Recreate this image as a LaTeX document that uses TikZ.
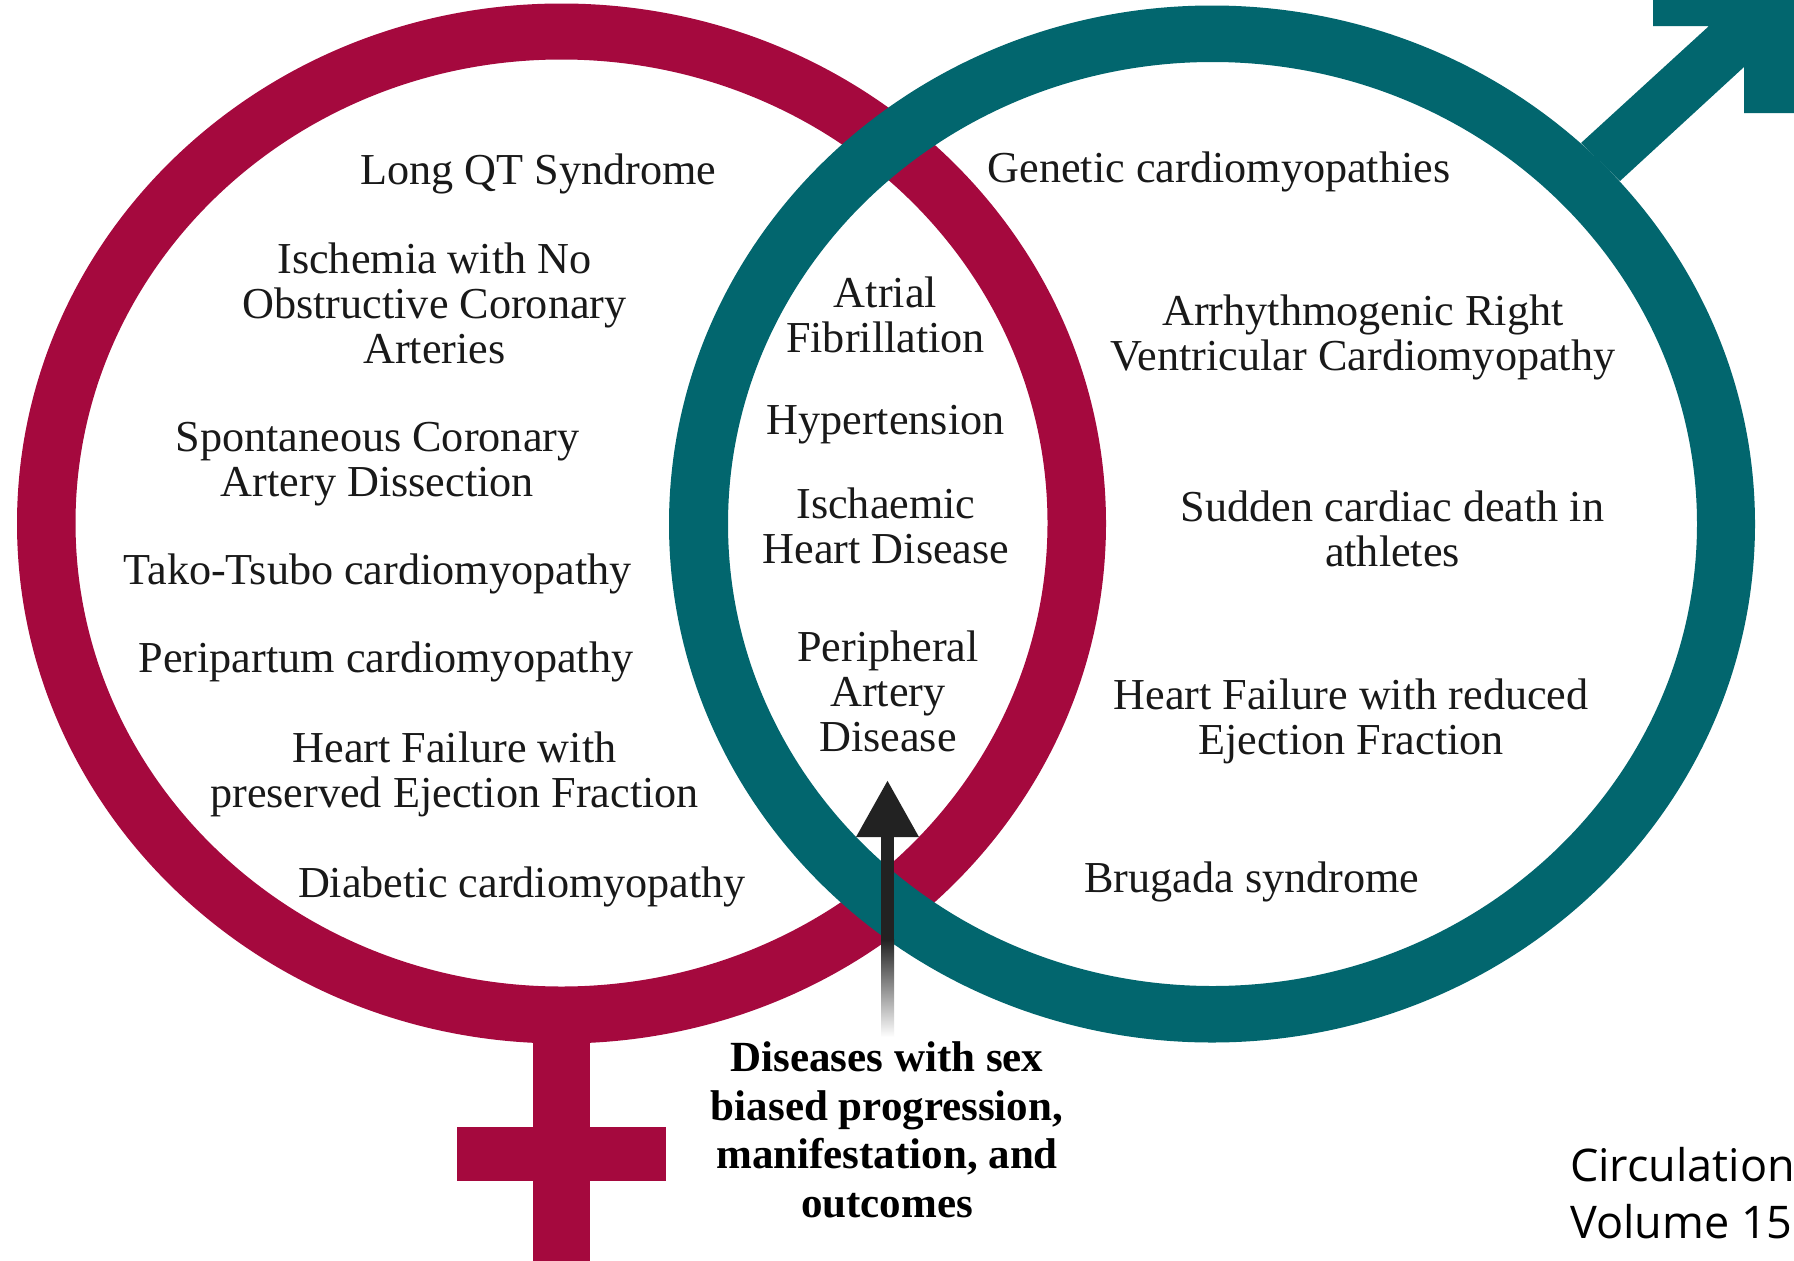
\documentclass[tikz,border=0pt]{standalone}
\usepackage{fontspec}
\setmainfont{Liberation Serif}
\newfontfamily\notefont{Open Sans}
\usetikzlibrary{arrows.meta}
\definecolor{ringred}{HTML}{A5093E}
\definecolor{ringteal}{HTML}{02666E}
\definecolor{arrowdark}{HTML}{222222}
\tikzset{
  lbl/.style={align=center,inner sep=0pt,text=black!90,font=\fontsize{44.2}{45}\selectfont},
  boldlbl/.style={align=center,inner sep=0pt,text=black,font=\fontsize{43}{48.6}\selectfont\bfseries},
  notelbl/.style={anchor=base west,inner sep=0pt,text=black,font=\notefont\fontsize{45}{57}\selectfont},
}
\begin{document}
\begin{tikzpicture}[x=1pt,y=-1pt]
\useasboundingbox (0,0) rectangle (1794,1261);
\fill[white] (0,0) rectangle (1794,1261);
\begin{scope}
\clip (0,0) rectangle (1794,1261);
% female symbol
\fill[ringred] (533,1000) rectangle (590,1261);
\fill[ringred] (456.5,1127) rectangle (666,1181);
\fill[ringred,even odd rule] (561.5,523.5) ellipse [x radius=544.5pt,y radius=520pt]
                              (561.5,523) ellipse [x radius=486pt,y radius=463.5pt];
% male symbol
\fill[ringteal] (1653,0) -- (1653,26) -- (1709,26) -- (1581,143) -- (1620,181) -- (1744,67) -- (1744,113) -- (1794,113) -- (1794,0) -- cycle;
\fill[ringteal,even odd rule] (1212,524) ellipse [x radius=543pt,y radius=518.5pt]
                               (1212.5,524) ellipse [x radius=484.5pt,y radius=462pt];
% arrow
\coordinate (arrowstart) at (887.5,940);
\coordinate (arrowtip) at (887.5,780);
\shade[top color=arrowdark,bottom color=white] (881,939.5) rectangle (894,1037);
\draw[arrowdark,line width=13pt,-{Triangle[width=59pt,length=57pt]}] (arrowstart) -- (arrowtip);
% labels
\node[lbl] (longqt) at (538.5,174) {Long QT Syndrome};
\node[lbl] (inoca) at (434.5,303) {Ischemia with No\\Obstructive Coronary\\Arteries};
\node[lbl] (scad) at (377.5,464.5) {Spontaneous Coronary\\Artery Dissection};
\node[lbl] (tako) at (377.5,574) {Tako-Tsubo cardiomyopathy};
\node[lbl] (peri) at (386,662) {Peripartum cardiomyopathy};
\node[lbl] (hfpef) at (454.5,774.5) {Heart Failure with\\preserved Ejection Fraction};
\node[lbl] (diab) at (522,886.5) {Diabetic cardiomyopathy};
\node[lbl] (gencm) at (1219,171.5) {Genetic cardiomyopathies};
\node[lbl] (arvc) at (1363,337) {Arrhythmogenic Right\\Ventricular Cardiomyopathy};
\node[lbl] (scd) at (1392.5,529) {Sudden cardiac death in\\athletes};
\node[lbl] (hfref) at (1351,721.5) {Heart Failure with reduced\\Ejection Fraction};
\node[lbl] (brugada) at (1252,881.5) {Brugada syndrome};
\node[lbl] (af) at (885.5,314.5) {Atrial\\Fibrillation};
\node[lbl] (htn) at (885.5,424.5) {Hypertension};
\node[lbl] (ihd) at (886,526) {Ischaemic\\Heart Disease};
\node[lbl] (pad) at (888,691) {Peripheral\\Artery\\Disease};
\node[boldlbl] (sexbias) at (887,1130) {Diseases with sex\\biased progression,\\manifestation, and\\outcomes};
\node[notelbl] (source) at (1570,1181) {Circulation};
\node[notelbl] (volume) at (1570,1238) {Volume 151};
\end{scope}
\end{tikzpicture}
\end{document}
